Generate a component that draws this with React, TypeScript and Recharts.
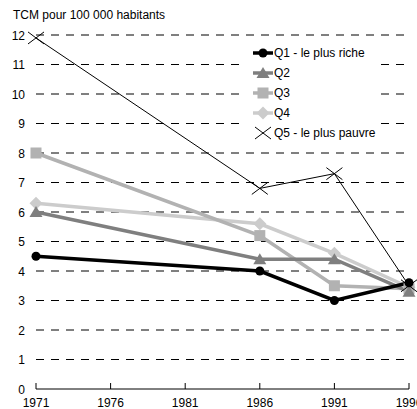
import React from "react";
import {
  LineChart,
  Line,
  XAxis,
  YAxis,
  CartesianGrid,
  Legend,
} from "recharts";

const years = [1971, 1986, 1991, 1996];
const q1 = [4.5, 4.0, 3.0, 3.6];
const q2 = [6.0, 4.4, 4.4, 3.3];
const q3 = [8.0, 5.2, 3.5, 3.4];
const q4 = [6.3, 5.6, 4.6, 3.45];
const q5 = [11.9, 6.8, 7.3, 3.5];

const xTicks = [1971, 1976, 1981, 1986, 1991, 1996];
const yTicks = [0, 1, 2, 3, 4, 5, 6, 7, 8, 9, 10, 11, 12];

const seriesNames = [
  "Q1 - le plus riche",
  "Q2",
  "Q3",
  "Q4",
  "Q5 - le plus pauvre",
];

const data = years.map((year, i) => ({
  year,
  q1: q1[i],
  q2: q2[i],
  q3: q3[i],
  q4: q4[i],
  q5: q5[i],
}));

const FONT = '"Liberation Sans", Arial, sans-serif';

type Shape = "circle" | "triangle" | "square" | "diamond" | "cross";

const Marker = ({ shape, cx, cy, color }: { shape: Shape; cx: number; cy: number; color: string }) => {
  if (shape === "circle") return <circle cx={cx} cy={cy} r={4.5} fill={color} />;
  if (shape === "triangle")
    return <polygon points={`${cx},${cy - 6} ${cx + 6.5},${cy + 5} ${cx - 6.5},${cy + 5}`} fill={color} />;
  if (shape === "square")
    return <rect x={cx - 5.5} y={cy - 5.5} width={11} height={11} fill={color} />;
  if (shape === "diamond")
    return <polygon points={`${cx},${cy - 6.5} ${cx + 6.5},${cy} ${cx},${cy + 6.5} ${cx - 6.5},${cy}`} fill={color} />;
  return (
    <g stroke={color} strokeWidth={1}>
      <line x1={cx - 8} y1={cy - 6} x2={cx + 8} y2={cy + 6} />
      <line x1={cx - 8} y1={cy + 6} x2={cx + 8} y2={cy - 6} />
    </g>
  );
};

const dotFor = (shape: Shape, color: string) => (props: any) => {
  const { cx, cy, key } = props;
  if (cx == null || cy == null) return <g key={key} />;
  return <Marker key={key} shape={shape} cx={cx} cy={cy} color={color} />;
};

const series: { key: string; color: string; width: number; shape: Shape }[] = [
  { key: "q1", color: "#000000", width: 3.5, shape: "circle" },
  { key: "q2", color: "#7f7f7f", width: 3.5, shape: "triangle" },
  { key: "q3", color: "#b2b2b2", width: 3.5, shape: "square" },
  { key: "q4", color: "#cccccc", width: 3.5, shape: "diamond" },
  { key: "q5", color: "#000000", width: 1, shape: "cross" },
];

const XTick = (props: any) => {
  const { x, y, payload } = props;
  return (
    <g>
      <line x1={x} y1={y - 6} x2={x} y2={y} stroke="#000" strokeWidth={1} />
      <text x={x} y={y + 18} textAnchor="middle" fontSize={12} fontFamily={FONT} fill="#000">
        {payload.value}
      </text>
    </g>
  );
};

const YTick = (props: any) => {
  const { x, y, payload } = props;
  return (
    <text x={x - 11} y={y + 4.5} textAnchor="end" fontSize={12} fontFamily={FONT} fill="#000">
      {payload.value}
    </text>
  );
};

const LegendBox = () => (
  <div style={{ width: 135, height: 97, background: "#fff", position: "relative" }}>
    {series.map((s, i) => (
      <div
        key={s.key}
        style={{
          position: "absolute",
          left: 8,
          top: 1 + i * 20,
          height: 14,
          display: "flex",
          alignItems: "center",
          fontFamily: FONT,
          fontSize: 12,
          color: "#000",
          whiteSpace: "nowrap",
        }}
      >
        <svg width={20} height={14} style={{ display: "block" }}>
          {s.shape !== "cross" && (
            <line x1={0} y1={7} x2={20} y2={7} stroke={s.color} strokeWidth={s.width} />
          )}
          <Marker shape={s.shape} cx={10} cy={7} color={s.color} />
        </svg>
        <span style={{ marginLeft: 1 }}>{seriesNames[i]}</span>
      </div>
    ))}
  </div>
);

export default function App() {
  return (
    <div
      style={{
        position: "absolute",
        left: 0,
        top: 0,
        width: 417,
        height: 409,
        background: "#fff",
        overflow: "hidden",
      }}
    >
      <div
        style={{
          position: "absolute",
          left: 13,
          top: 8,
          fontFamily: FONT,
          fontSize: 12,
          lineHeight: "14px",
          color: "#000",
          whiteSpace: "nowrap",
        }}
      >
        TCM pour 100 000 habitants
      </div>
      <LineChart
        width={417}
        height={409}
        data={data}
        margin={{ top: 35, right: 8, bottom: 0, left: 0 }}
      >
        <CartesianGrid
          vertical={false}
          horizontalValues={yTicks.slice(1)}
          stroke="#000"
          strokeDasharray="8 7"
        />
        <XAxis
          dataKey="year"
          type="number"
          domain={[1971, 1996]}
          ticks={xTicks}
          height={20}
          axisLine={{ stroke: "#000", strokeWidth: 1 }}
          tickLine={false}
          tickSize={0}
          tickMargin={0}
          tick={<XTick />}
          interval={0}
        />
        <YAxis
          type="number"
          domain={[0, 12]}
          ticks={yTicks}
          width={36}
          axisLine={false}
          tickLine={false}
          tickSize={0}
          tickMargin={0}
          tick={<YTick />}
          interval={0}
        />
        <Legend
          layout="vertical"
          align="center"
          verticalAlign="middle"
          content={<LegendBox />}
          wrapperStyle={{ position: "absolute", left: 245, top: 45, width: 135, height: 97 }}
        />
        {[3, 2, 1, 0, 4].map((idx) => {
          const s = series[idx];
          return (
            <Line
              key={s.key}
              type="linear"
              dataKey={s.key}
              name={seriesNames[idx]}
              stroke={s.color}
              strokeWidth={s.width}
              dot={dotFor(s.shape, s.color)}
              activeDot={false}
              isAnimationActive={false}
            />
          );
        })}
      </LineChart>
    </div>
  );
}
